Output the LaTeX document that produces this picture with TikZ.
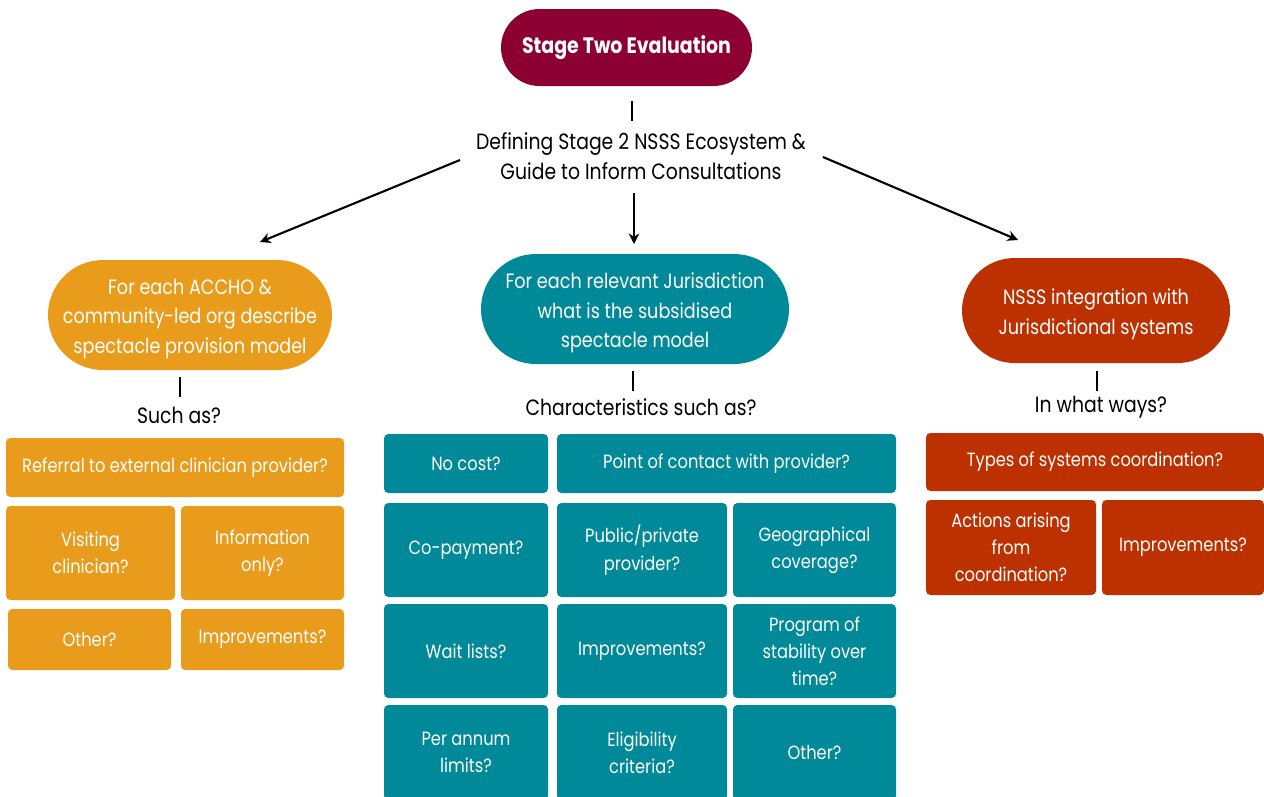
\documentclass[tikz,border=0pt]{standalone}
\usepackage{fontspec}
\setmainfont{Poppins}[FakeStretch=0.85]
\usetikzlibrary{shapes.misc,arrows.meta}
\definecolor{cmaroon}{RGB}{140,0,50}
\definecolor{corange}{RGB}{233,156,28}
\definecolor{cteal}{RGB}{0,137,152}
\definecolor{cred}{RGB}{189,49,0}
\newcommand\mybox[7]{\node[cell,fill=#6,minimum width={(#4-#2)*0.02cm},minimum height={(#5-#3)*0.02cm}] (#1) at ({(#2+#4)/2},{(#3+#5)/2}) {#7};}
\newcommand\mypill[7]{\node[pill,fill=#6,minimum width={(#4-#2)*0.02cm},minimum height={(#5-#3)*0.02cm}] (#1) at ({(#2+#4)/2},{(#3+#5)/2}) {};
  \node[ptext] (#1-text) at ([yshift=-2.2pt]#1.center) {#7};}
\tikzset{
  cell/.style={rectangle,rounded corners=2.5pt,inner sep=0pt,outer sep=0pt,text=white,align=center,font=\fontsize{10.9}{15.5}\selectfont},
  pill/.style={rounded rectangle,inner sep=0pt,outer sep=0pt},
  ptext/.style={inner sep=0pt,text=white,align=center,font=\fontsize{11.8}{16.8}\selectfont},
  lbl/.style={inner sep=0pt,align=center,text=black,font=\fontsize{12.6}{17}\selectfont},
  tick/.style={line width=1.3pt,black},
  arr/.style={line width=1.2pt,black,-{Stealth[length=6pt,width=6pt]}}
}
\begin{document}
\begin{tikzpicture}[x=0.02cm,y=-0.02cm]
\useasboundingbox (0,0) rectangle (1264,796);
% top
\node[pill,fill=cmaroon,minimum width={251*0.02cm},minimum height={77*0.02cm},text=white,font=\bfseries\fontsize{12.7}{14}\selectfont] (top) at (626.5,47.5) {Stage Two Evaluation};
\coordinate (t1) at (632,101); \coordinate (t2) at (632,121);
\draw[tick] (t1) -- (t2);
\node[lbl] (def) at (641,156) {Defining Stage 2 NSSS Ecosystem \&\\Guide to Inform Consultations};
\coordinate (aL1) at (460,160); \coordinate (aL2) at (260,242);
\coordinate (aC1) at (634,193); \coordinate (aC2) at (634,244);
\coordinate (aR1) at (823,157); \coordinate (aR2) at (1018,240);
\draw[arr] (aL1) -- (aL2);
\draw[arr] (aC1) -- (aC2);
\draw[arr] (aR1) -- (aR2);
% left column
\mypill{pl}{48}{260}{332}{370}{corange}{For each ACCHO \&\\community-led org describe\\spectacle provision model}
\coordinate (l1) at (180,377); \coordinate (l2) at (180,397);
\draw[tick] (l1) -- (l2);
\node[lbl] (lq) at (179,415) {Such as?};
\mybox{l11}{6}{438}{344}{497}{corange}{Referral to external clinician provider?}
\mybox{l21}{6}{506}{175}{600}{corange}{Visiting\\clinician?}
\mybox{l22}{181}{506}{344}{600}{corange}{Information\\only?}
\mybox{l31}{8}{609}{171}{670}{corange}{Other?}
\mybox{l32}{181}{609}{344}{670}{corange}{Improvements?}
% centre column
\mypill{pc}{481}{254}{789}{364}{cteal}{For each relevant Jurisdiction\\what is the subsidised\\spectacle model}
\coordinate (c1) at (633,371); \coordinate (c2) at (633,391);
\draw[tick] (c1) -- (c2);
\node[lbl] (cq) at (641,407) {Characteristics such as?};
\mybox{c11}{384}{434}{548}{493}{cteal}{No cost?}
\mybox{c12}{557}{434}{896}{493}{cteal}{Point of contact with provider?}
\mybox{c21}{384}{503}{548}{597}{cteal}{Co-payment?}
\mybox{c22}{557}{503}{727}{597}{cteal}{Public/private\\provider?}
\mybox{c23}{733}{503}{896}{597}{cteal}{Geographical\\coverage?}
\mybox{c31}{384}{604}{548}{698}{cteal}{Wait lists?}
\mybox{c32}{557}{604}{727}{698}{cteal}{Improvements?}
\mybox{c33}{733}{604}{896}{698}{cteal}{Program of\\stability over\\time?}
\mybox{c41}{384}{705}{548}{800}{cteal}{Per annum\\limits?}
\mybox{c42}{557}{705}{727}{800}{cteal}{Eligibility\\criteria?}
\mybox{c43}{733}{705}{896}{800}{cteal}{Other?}
% right column
\mypill{pr}{962}{258}{1230}{363}{cred}{NSSS integration with\\Jurisdictional systems}
\coordinate (r1) at (1097,371); \coordinate (r2) at (1097,391);
\draw[tick] (r1) -- (r2);
\node[lbl] (rq) at (1101,407) {In what ways?};
\mybox{r11}{926}{433}{1264}{491}{cred}{Types of systems coordination?}
\mybox{r21}{926}{500}{1096}{595}{cred}{Actions arising\\from\\coordination?}
\mybox{r22}{1102}{500}{1264}{595}{cred}{Improvements?}
\end{tikzpicture}
\end{document}
